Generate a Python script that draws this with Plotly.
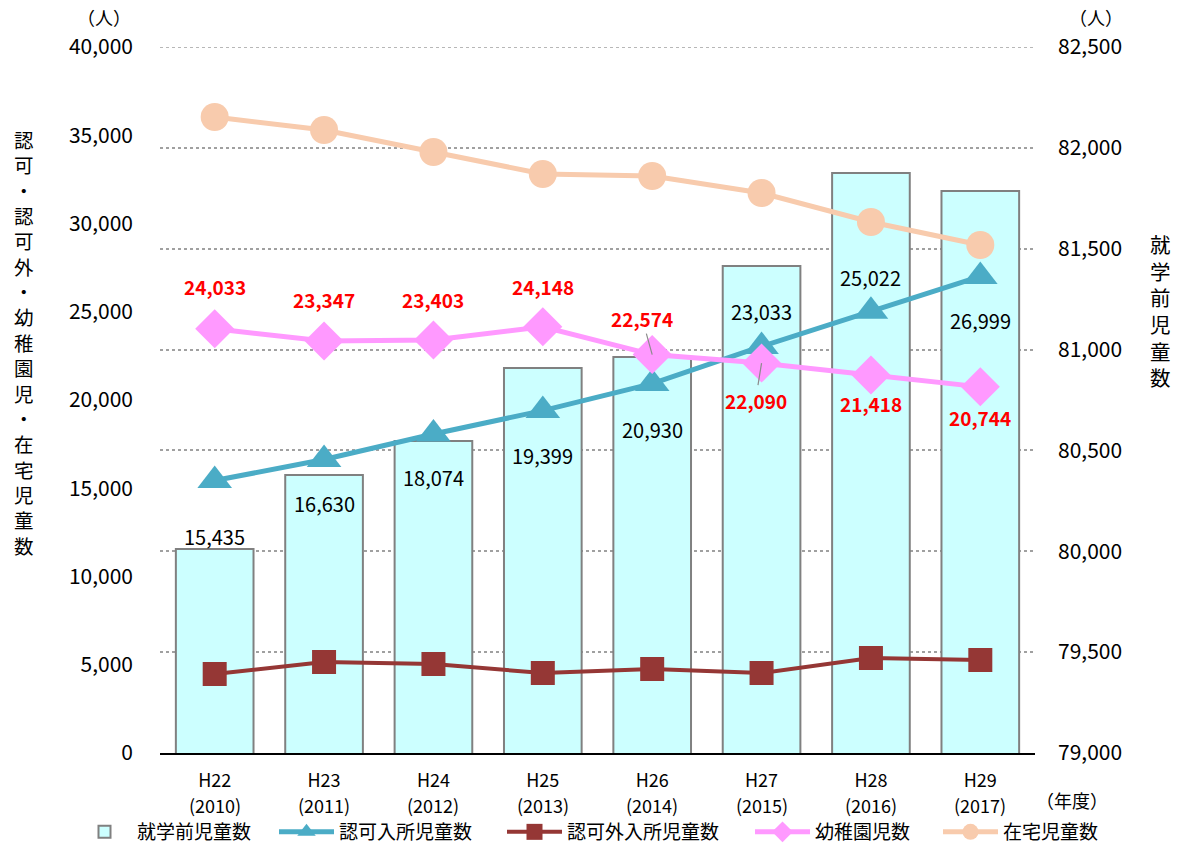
import plotly.graph_objects as go

# ---------------- data ----------------
years_h = ["H22", "H23", "H24", "H25", "H26", "H27", "H28", "H29"]
years_ad = ["2010", "2011", "2012", "2013", "2014", "2015", "2016", "2017"]
preschool = [80011, 80378, 80547, 80909, 80963, 81414, 81875, 81786]      # 就学前児童数 (right axis)
ninka = [15435, 16630, 18074, 19399, 20930, 23033, 25022, 26999]          # 認可入所児童数
ninkagai = [4476, 5156, 5042, 4533, 4759, 4533, 5382, 5269]               # 認可外入所児童数
yochien = [24033, 23347, 23403, 24148, 22574, 22090, 21418, 20744]        # 幼稚園児数
zaitaku = [36034, 35297, 34051, 32805, 32691, 31728, 30085, 28782]        # 在宅児童数
right_ticks = [79000, 79500, 80000, 80500, 81000, 81500, 82000, 82500]

names = ["就学前児童数", "認可入所児童数", "認可外入所児童数", "幼稚園児数", "在宅児童数"]
left_title = "認可・認可外・幼稚園児・在宅児童数"
right_title = "就学前児童数"

# ---------------- style ----------------
FONT = "Noto Sans CJK JP"
L, R, T, B = 160, 146, 47, 94
W, H = 1181, 847
PW, PH = W - L - R, H - T - B

# label offsets (pixels, positive = up)
ninka_dy = [-56, -44, -44, -45, -46, 35, 34, -44]
yochien_dy = [42, 41, 40, 40, 36, -37, -29, -31]
yochien_dx = [0, 0, 0, 0, -10, -6, 0, 0]
yochien_leader = [False, False, False, False, True, True, False, False]
legend_w = [132, 158, 178, 118, 92]


def px(xp):
    return (xp - L) / PW


def py(yp):
    return (H - B - yp) / PH


fig = go.Figure()
fig.add_trace(go.Bar(
    x=years_h, y=preschool, name=names[0], yaxis="y", width=0.71, legendwidth=legend_w[0],
    marker=dict(color="#CCFFFF", line=dict(color="#808080", width=2)),
))
fig.add_trace(go.Scatter(
    x=years_h, y=ninka, name=names[1], yaxis="y2", mode="lines+markers",
    legendwidth=legend_w[1],
    line=dict(color="#4BACC6", width=5),
    marker=dict(symbol="triangle-up", size=30, color="#4BACC6"),
))
fig.add_trace(go.Scatter(
    x=years_h, y=ninkagai, name=names[2], yaxis="y2", mode="lines+markers",
    legendwidth=legend_w[2],
    line=dict(color="#953735", width=4),
    marker=dict(symbol="square", size=24, color="#953735"),
))
fig.add_trace(go.Scatter(
    x=years_h, y=yochien, name=names[3], yaxis="y2", mode="lines+markers",
    legendwidth=legend_w[3],
    line=dict(color="#FF99FF", width=5),
    marker=dict(symbol="diamond", size=30, color="#FF99FF"),
))
fig.add_trace(go.Scatter(
    x=years_h, y=zaitaku, name=names[4], yaxis="y2", mode="lines+markers",
    legendwidth=legend_w[4],
    line=dict(color="#F8CBAD", width=5),
    marker=dict(symbol="circle", size=28, color="#F8CBAD"),
))

ann = []
for i, (h, v) in enumerate(zip(years_h, ninka)):
    ann.append(dict(x=h, y=v, xref="x", yref="y2", text=f"{v:,}", showarrow=False,
                    xanchor="center", yanchor="middle",
                    yshift=ninka_dy[i], font=dict(family=FONT, size=20, color="black")))
for i, (h, v) in enumerate(zip(years_h, yochien)):
    if yochien_leader[i]:
        ann.append(dict(x=h, y=v, xref="x", yref="y2", text=f"<b>{v:,}</b>", showarrow=True,
                        arrowhead=0, arrowwidth=1.2, arrowcolor="#8C8C8C", standoff=0,
                        ax=yochien_dx[i], ay=-yochien_dy[i],
                        font=dict(family=FONT, size=19, color="#FF0000")))
    else:
        ann.append(dict(x=h, y=v, xref="x", yref="y2", text=f"<b>{v:,}</b>", showarrow=False,
                        xanchor="center", yanchor="middle",
                        yshift=yochien_dy[i], xshift=yochien_dx[i],
                        font=dict(family=FONT, size=19, color="#FF0000")))

# year row under category labels
for h, a in zip(years_h, years_ad):
    ann.append(dict(x=h, y=py(805), xref="x", yref="paper", text=f"({a})",
                    xanchor="center", yanchor="middle",
                    showarrow=False, font=dict(family=FONT, size=18, color="black")))


def paper_text(xp, yp, text, size):
    return dict(x=px(xp), y=py(yp), xref="paper", yref="paper", text=text,
                xanchor="center", yanchor="middle", showarrow=False,
                font=dict(family=FONT, size=size, color="black"))


ann.append(paper_text(1072, 800, "（年度）", 18))
ann.append(paper_text(104, 17, "（人）", 18))
ann.append(paper_text(1096, 17, "（人）", 18))

# stacked vertical titles
ann.append(paper_text(24, 342, "<br>".join(left_title), 19.5))
ann.append(paper_text(1160, 310, "<br>".join(right_title), 20.5))

fig.update_layout(
    width=W, height=H,
    margin=dict(l=L, r=R, t=T, b=B, autoexpand=False),
    paper_bgcolor="white", plot_bgcolor="white",
    font=dict(family=FONT, size=18, color="black"),
    barmode="overlay",
    xaxis=dict(type="category", range=[-0.5, 7.5], showline=True, linecolor="black",
               linewidth=2, ticks="", showgrid=False, tickfont=dict(size=18),
               ticklabelstandoff=10),
    yaxis=dict(range=[right_ticks[0], right_ticks[-1]], tickvals=right_ticks,
               side="right", tickformat=",",
               showgrid=True, griddash="dot", gridcolor="#A0A0A0", gridwidth=1.5,
               zeroline=False, showline=False, ticks="", ticklabelstandoff=22,
               tickfont=dict(size=21)),
    yaxis2=dict(range=[0, 40000], dtick=5000, side="left", overlaying="y", tickformat=",",
                showgrid=False, zeroline=False, showline=False, ticks="",
                ticklabelstandoff=26, tickfont=dict(size=21)),
    legend=dict(orientation="h", x=px(72), xanchor="left", y=py(832), yanchor="middle",
                font=dict(size=19), itemwidth=55, traceorder="normal"),
    annotations=ann,
    shapes=[dict(type="line", xref="paper", yref="y", x0=0, x1=1,
                 y0=right_ticks[-1], y1=right_ticks[-1], layer="below",
                 line=dict(color="#A0A0A0", width=1.5, dash="dot"))],
)

fig.write_html("out.html", config={"displayModeBar": False},
               post_script="document.body.style.margin='0';")
